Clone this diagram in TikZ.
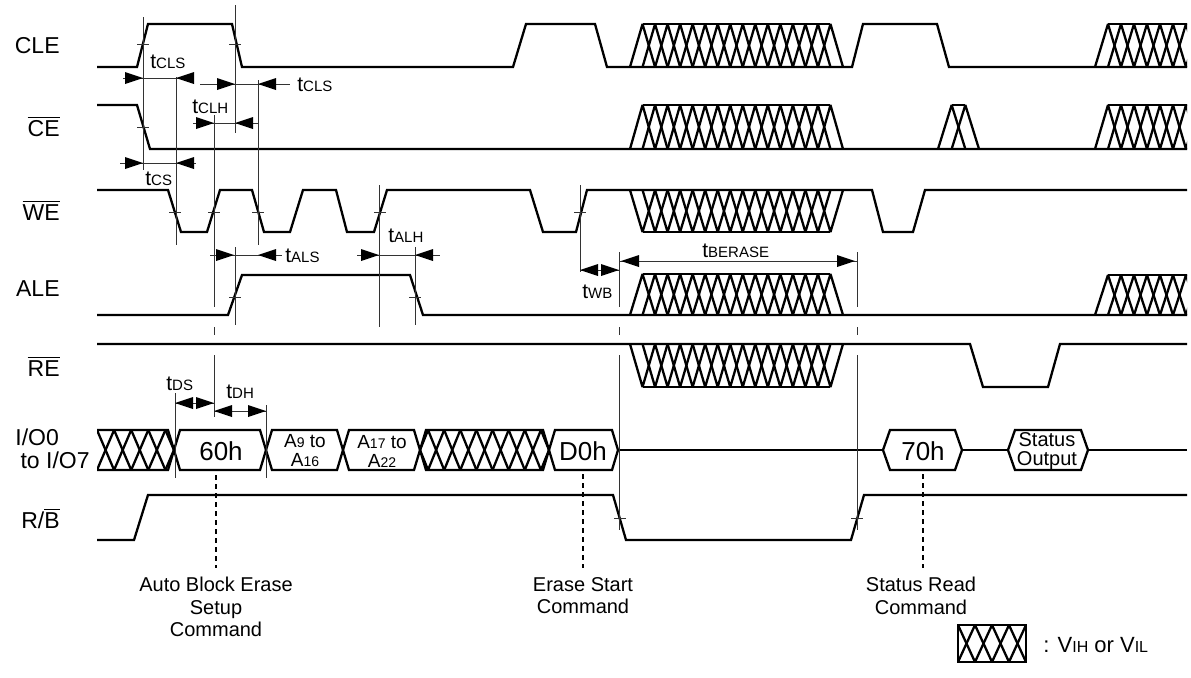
\documentclass[tikz,border=0pt]{standalone}
\usepackage{fontspec}
\setmainfont{Liberation Sans}
\newcommand\tipR[2]{\fill (#1,#2) -- ++(-18,-6) -- ++(0,12) -- cycle;}
\newcommand\tipL[2]{\fill (#1,#2) -- ++(18,-6) -- ++(0,12) -- cycle;}
\newcommand\tck[2]{\draw[fine] (#1-6,#2) -- (#1+6,#2);}
\newcommand\htrap[5]{%
  \pgfmathsetmacro\hw{(#2-#1)/#3}%
  \pgfmathtruncatemacro\hm{#3-2}%
  \draw[sig] (#1+\hw,#5) -- (#2-\hw,#5);%
  \foreach \m in {0,...,\hm}{%
    \draw[sig,line join=bevel] (#1+\m*\hw,#4) -- (#1+\m*\hw+\hw,#5) -- (#1+\m*\hw+2*\hw,#4);}%
}
\newcommand\hexbox[3]{\draw[sig] (#1,450) -- (#1+#3,430) -- (#2-#3,430) -- (#2,450) -- (#2-#3,470) -- (#1+#3,470) -- cycle;}
\newcommand\tsub[2]{#1{\fontsize{7.5}{8}\selectfont #2}}
\begin{document}
\begin{tikzpicture}[x=0.5pt,y=-0.5pt,
  sig/.style={line width=1.15pt},
  fine/.style={line width=0.5pt,black!80},
  dsh/.style={line width=0.55pt,dash pattern=on 2.5pt off 2pt},
  lab/.style={inner sep=0pt,font=\fontsize{11.5}{13}\selectfont},
  tlab/.style={inner sep=0pt,anchor=base west,font=\fontsize{10.5}{12}\selectfont},
  boxt/.style={inner sep=0pt,font=\fontsize{13}{14}\selectfont},
  bot/.style={inner sep=0pt,align=center,anchor=north,font=\fontsize{10}{11.25}\selectfont},
]
\useasboundingbox (0,0) rectangle (1191,677);

% ---------- signal labels
\node[lab,anchor=base east] (lCLE) at (60,53) {CLE};
\node[lab,anchor=base east] (lCE) at (60,136) {$\overline{\mbox{CE}}$};
\node[lab,anchor=base east] (lWE) at (60,220) {$\overline{\mbox{WE}}$};
\node[lab,anchor=base east] (lALE) at (60,296) {ALE};
\node[lab,anchor=base east] (lRE) at (60,376) {$\overline{\mbox{RE}}$};
\node[lab,anchor=base west] (lIO) at (15,445) {I/O0};
\node[lab,anchor=base east] (lIO2) at (90,468) {to I/O7};
\node[lab,anchor=base east] (lRB) at (60,528) {R/$\overline{\mbox{B}}$};

% ---------- CLE
\draw[sig] (97,67) -- (137,67) -- (148,24) -- (232,24) -- (242,67) -- (513,67) -- (526,24) -- (595,24) -- (607,67)
  -- (852,67) -- (863,24) -- (937,24) -- (949,67) -- (1187,67);
\htrap{630}{843}{17}{67}{24}
\begin{scope}\clip (0,0) rectangle (1187,677); \htrap{1095}{1225}{10}{67}{24} \end{scope}

% ---------- CE
\draw[sig] (97,105) -- (137,105) -- (150,149) -- (1187,149);
\htrap{630}{843}{17}{149}{105}
\htrap{938}{979}{3}{149}{105}
\begin{scope}\clip (0,0) rectangle (1187,677); \htrap{1095}{1225}{10}{149}{105} \end{scope}

% ---------- WE
\draw[sig] (97,190) -- (168,190) -- (181,232) -- (207,232) -- (220,190) -- (252,190) -- (264,232) -- (290,232)
  -- (303,190) -- (336,190) -- (347,232) -- (374,232) -- (387,190) -- (530,190) -- (543,232) -- (576,232)
  -- (587,190) -- (872,190) -- (883,232) -- (913,232) -- (925,190) -- (1187,190);
\htrap{630}{843}{17}{190}{232}

% ---------- ALE
\draw[sig] (97,315) -- (228,315) -- (242,275) -- (410,275) -- (423,315) -- (1187,315);
\htrap{630}{843}{17}{315}{274}
\begin{scope}\clip (0,0) rectangle (1187,677); \htrap{1095}{1225}{10}{315}{275} \end{scope}

% ---------- RE
\draw[sig] (97,344) -- (970,344) -- (983,387) -- (1048,387) -- (1060,344) -- (1187,344);
\htrap{630}{843}{17}{344}{387}

% ---------- I/O bus
\begin{scope}
  \clip (97,430) -- (168,430) -- (174,450) -- (168,470) -- (97,470) -- cycle;
  \foreach \m in {0,...,4}{
    \draw[sig] (97+\m*17.1,430) -- (97+\m*17.1+17.1,470);
    \draw[sig] (97+\m*17.1,470) -- (97+\m*17.1+17.1,430);}
\end{scope}
\draw[sig] (97,430) -- (168,430) -- (174,450) -- (168,470) -- (97,470);
\hexbox{174}{266}{6}
\hexbox{266}{343}{6}
\hexbox{343}{420}{6}
\begin{scope}
  \clip (420,450) -- (426,430) -- (543,430) -- (549,450) -- (543,470) -- (426,470) -- cycle;
  \foreach \m in {0,...,8}{
    \draw[sig] (420+\m*16.125-8.06,430) -- (420+\m*16.125+8.06,470);
    \draw[sig] (420+\m*16.125-8.06,470) -- (420+\m*16.125+8.06,430);}
\end{scope}
\hexbox{420}{549}{6}
\hexbox{549}{618}{6}
\draw[sig] (618,450) -- (883,450);
\hexbox{883}{962}{7}
\draw[sig] (962,450) -- (1008,450);
\hexbox{1008}{1088}{7}
\draw[sig] (1088,450) -- (1187,450);

\node[boxt] (v60) at (221,451) {60h};
\node[inner sep=0pt,align=center,font=\fontsize{9.5}{9.5}\selectfont] (vA9) at (305,451) {A{\fontsize{7}{7}\selectfont 9} to\\A{\fontsize{7}{7}\selectfont 16}};
\node[inner sep=0pt,align=center,font=\fontsize{9.5}{9.5}\selectfont] (vA17) at (382,451) {A{\fontsize{7}{7}\selectfont 17} to\\A{\fontsize{7}{7}\selectfont 22}};
\node[boxt] (vD0) at (583,451) {D0h};
\node[boxt] (v70) at (923,451) {70h};
\node[inner sep=0pt,align=center,font=\fontsize{10}{9.6}\selectfont] (vST) at (1047,451) {Status\\Output};

% ---------- R/B
\draw[sig] (97,540) -- (134,540) -- (148,495) -- (613,495) -- (626,540) -- (851,540) -- (864,495) -- (1187,495);

% ---------- reference lines
\draw[fine] (143,17) -- (143,170);
\draw[fine] (176,77) -- (176,245);
\draw[fine] (235,5) -- (235,133);
\draw[fine] (258,80) -- (258,245);
\draw[fine] (214,115) -- (214,307) (214,327) -- (214,335) (214,355) -- (214,417);
\draw[fine] (235,247) -- (235,325);
\draw[fine] (379,185) -- (379,327);
\draw[fine] (415,247) -- (415,325);
\draw[fine] (580,185) -- (580,272);
\draw[fine] (619,252) -- (619,307) (619,327) -- (619,335) (619,355) -- (619,530);
\draw[fine] (857,252) -- (857,307) (857,327) -- (857,335) (857,355) -- (857,530);
\draw[fine] (175,393) -- (175,478);
\draw[fine] (266,405) -- (266,478);

% ticks
\tck{143}{44} \tck{235}{44} \tck{143}{127}
\tck{175}{212} \tck{214}{212} \tck{258}{212} \tck{380}{212} \tck{580}{212}
\tck{235}{297} \tck{415}{297}
\tck{620}{518} \tck{857}{518}

% ---------- measurements
\draw[fine] (123,78) -- (193,78); \tipR{143}{78} \tipL{176}{78}
\draw[fine] (200,84) -- (290,84); \tipR{235}{84} \tipL{258}{84}
\draw[fine] (193,123) -- (258,123); \tipR{214}{123} \tipL{235}{123}
\draw[fine] (120,163) -- (196,163); \tipR{143}{163} \tipL{176}{163}
\draw[fine] (210,255) -- (282,255); \tipR{234}{255} \tipL{258}{255}
\draw[fine] (357,255) -- (440,255); \tipR{379}{255} \tipL{415}{255}
\draw[fine] (580,270) -- (619,270); \tipL{580}{270} \tipR{619}{270}
\draw[fine] (619,261) -- (857,261); \tipL{621}{261} \tipR{855}{261}
\draw[fine] (175,403) -- (214,403); \tipL{175}{403} \tipR{214}{403}
\draw[fine] (214,411) -- (266,411); \tipL{214}{411} \tipR{266}{411}

\node[tlab] (tA) at (150,68) {\tsub{t}{CLS}};
\node[tlab] (tB) at (297,91) {\tsub{t}{CLS}};
\node[tlab] (tC) at (192,113) {\tsub{t}{CLH}};
\node[tlab] (tD) at (145,185) {\tsub{t}{CS}};
\node[tlab] (tE) at (285,262) {\tsub{t}{ALS}};
\node[tlab] (tF) at (388,242) {\tsub{t}{ALH}};
\node[tlab] (tG) at (582,298) {\tsub{t}{WB}};
\node[tlab] (tH) at (702,257) {\tsub{t}{BERASE}};
\node[tlab] (tI) at (166,390) {\tsub{t}{DS}};
\node[tlab] (tJ) at (226,398) {\tsub{t}{DH}};

% ---------- command markers
\draw[dsh] (216,475) -- (216,568);
\draw[dsh] (583,474) -- (583,568);
\draw[dsh] (923,474) -- (923,568);
\node[bot] (cA) at (216,577) {Auto Block Erase\\Setup\\Command};
\node[bot] (cB) at (583,577) {Erase Start\\Command};
\node[bot] (cC) at (921,577) {Status Read\\Command};

% ---------- legend
\begin{scope}
  \clip (958,625) rectangle (1026,662);
  \foreach \m in {0,...,3}{
    \draw[sig] (958+\m*17,625) -- (958+\m*17+17,662);
    \draw[sig] (958+\m*17,662) -- (958+\m*17+17,625);}
\end{scope}
\draw[sig] (958,625) rectangle (1026,662);
\node[inner sep=0pt,anchor=west,font=\fontsize{11}{12}\selectfont] (lg) at (1043,645) {: V{\fontsize{8}{8}\selectfont IH} or V{\fontsize{8}{8}\selectfont IL}};
\end{tikzpicture}
\end{document}
